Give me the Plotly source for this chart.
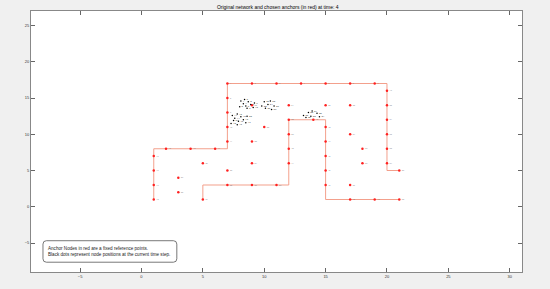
import plotly.graph_objects as go

# Boundary / corridor polylines (drawn in light red)
wall1_x = [21, 20, 20, 7, 7, 1, 1]
wall1_y = [5, 5, 17, 17, 8, 8, 1]
wall2_x = [5, 5, 12, 12, 15, 15, 21]
wall2_y = [1, 3, 3, 12, 12, 1, 1]

# Anchor nodes (red)
anchor_x = [7, 9, 11, 13, 15, 17, 19,
            7, 7, 7, 7,
            2, 4, 6,
            1, 1, 1, 1,
            20, 20, 20, 20, 20, 20, 21,
            5, 3, 3, 7, 9, 9, 10, 9,
            5, 7, 9, 11,
            12, 12, 12, 12, 14,
            15, 15, 15, 15, 15,
            17, 19, 21,
            12, 15, 17, 17, 18, 18, 17]
anchor_y = [17, 17, 17, 17, 17, 17, 17,
            15, 13, 11, 9,
            8, 8, 8,
            7, 5, 3, 1,
            16, 14, 12, 10, 8, 6, 5,
            6, 4, 2, 5, 9, 6, 11, 14,
            1, 3, 3, 3,
            12, 10, 8, 6, 12,
            11, 9, 7, 5, 3,
            1, 1, 1,
            14, 14, 14, 10, 8, 6, 3]
anchor_labels = [str(i + 1) for i in range(len(anchor_x))]

# Estimated node positions (black) at the current time step
node_x = [8.1, 8.4, 8.7, 8.3, 8.9, 8.5, 9.2, 8.0, 8.6, 9.1,
          7.4, 7.8, 8.1, 7.6, 8.3, 7.9, 8.5, 7.3, 7.8, 8.6, 7.5,
          10.0, 10.5, 10.3, 10.8, 10.1, 10.6, 9.8,
          13.2, 13.6, 13.9, 14.3, 13.8, 14.5, 13.4]
node_y = [14.6, 14.8, 14.5, 14.2, 14.1, 13.9, 14.3, 13.8, 13.6, 13.7,
          12.6, 12.8, 12.4, 12.2, 12.0, 11.8, 11.6, 11.5, 11.3, 12.5, 11.9,
          14.5, 14.6, 14.1, 13.9, 13.6, 13.4, 13.9,
          12.6, 13.0, 13.2, 12.9, 12.5, 12.4, 12.3]
node_labels = [str(i + 1) for i in range(len(node_x))]

x_ticks = [-5, 0, 5, 10, 15, 20, 25, 30]
y_ticks = [-5, 0, 5, 10, 15, 20, 25]

line_color = "rgba(242,150,128,0.9)"

fig = go.Figure()
for wx, wy in [(wall1_x, wall1_y), (wall2_x, wall2_y)]:
    fig.add_trace(go.Scatter(x=wx, y=wy, mode="lines",
                             line=dict(color=line_color, width=1),
                             hoverinfo="skip", showlegend=False))

fig.add_trace(go.Scatter(x=anchor_x, y=anchor_y, mode="markers+text",
                         marker=dict(color="#ff2020", size=2.5, symbol="circle"),
                         text=anchor_labels, textposition="middle right",
                         textfont=dict(size=2, color="#777"),
                         showlegend=False))

fig.add_trace(go.Scatter(x=node_x, y=node_y, mode="markers+text",
                         marker=dict(color="#000", size=1.5),
                         text=node_labels, textposition="middle right",
                         textfont=dict(size=2.5, color="#222"),
                         showlegend=False))

# Rounded note box (paper coordinates)
bx0, bx1, by0, by1 = 0.0244, 0.297, 0.0375, 0.1199
rx, ry = 0.007, 0.013
box_path = (f"M {bx0+rx},{by0} L {bx1-rx},{by0} Q {bx1},{by0} {bx1},{by0+ry} "
            f"L {bx1},{by1-ry} Q {bx1},{by1} {bx1-rx},{by1} "
            f"L {bx0+rx},{by1} Q {bx0},{by1} {bx0},{by1-ry} "
            f"L {bx0},{by0+ry} Q {bx0},{by0} {bx0+rx},{by0} Z")
fig.add_shape(type="path", path=box_path, xref="paper", yref="paper",
              line=dict(color="#555", width=0.8), fillcolor="white")

fig.add_annotation(xref="paper", yref="paper", x=0.031, y=0.108,
                   xanchor="left", yanchor="top", align="left",
                   text="Anchor Nodes in red are a fixed reference points.<br>Black dots represent node positions at the current time step.",
                   showarrow=False, font=dict(size=4.6, color="#222", family="Liberation Sans"))

axis_common = dict(showgrid=False, zeroline=False, ticks="inside", ticklen=4,
                   tickcolor="#666", showline=True, linecolor="#888", linewidth=1,
                   mirror="ticks", tickfont=dict(size=4, color="#333", family="Liberation Sans"))

fig.update_layout(
    width=550, height=289,
    margin=dict(l=31, r=28, t=10, b=12),
    paper_bgcolor="#f0f0f0", plot_bgcolor="white",
    title=dict(text="Original network and chosen anchors (in red) at time: 4",
               x=0.505, xanchor="center", y=0.976, yanchor="middle",
               font=dict(size=5, color="#000", family="Liberation Sans")),
    xaxis=dict(range=[-9, 31], tickvals=x_ticks, **axis_common),
    yaxis=dict(range=[-9, 27], tickvals=y_ticks, **axis_common),
)

fig.write_html("out.html", config={"displayModeBar": False},
               post_script="document.body.style.margin='0';")
